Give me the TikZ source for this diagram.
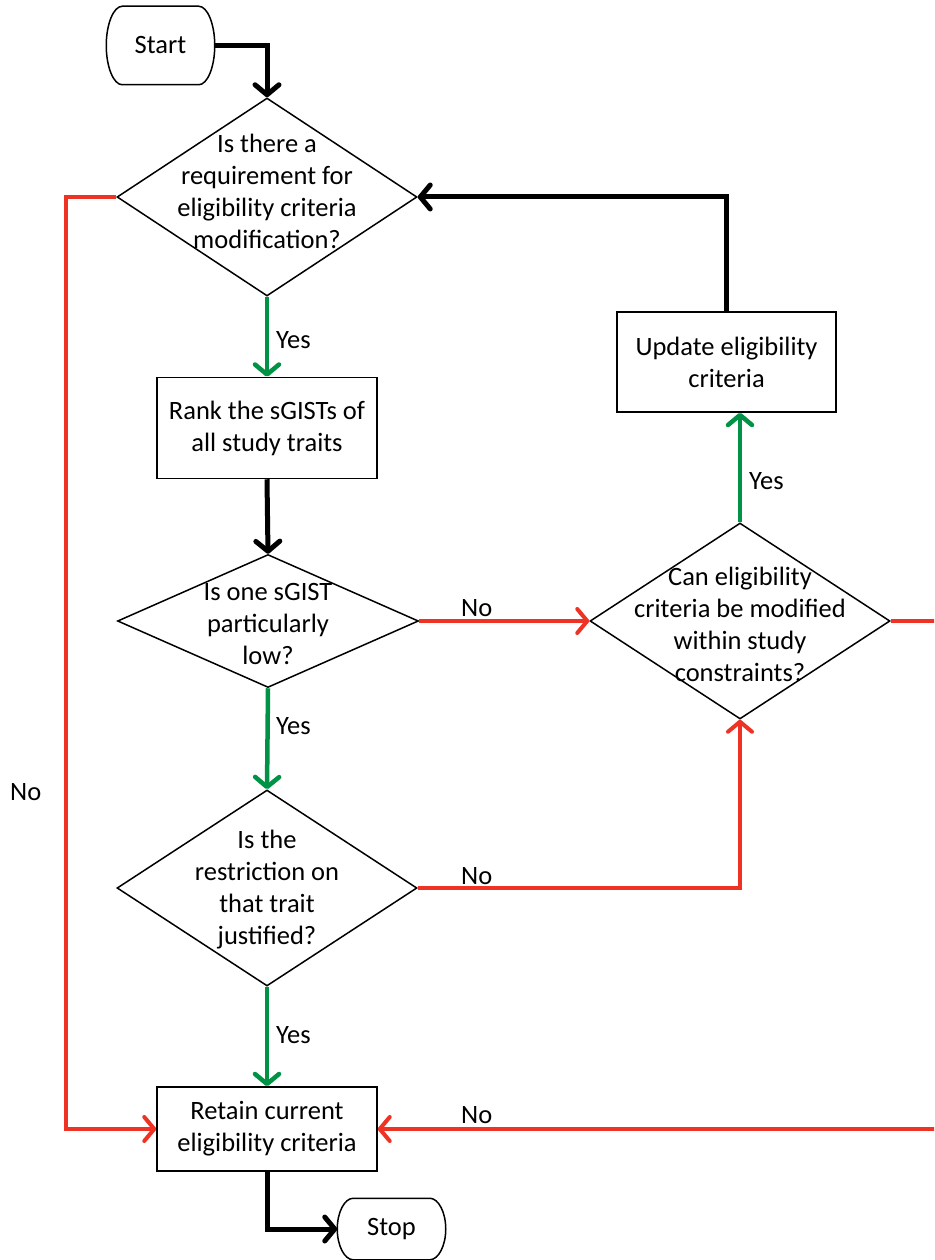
\documentclass[tikz,border=0pt]{standalone}
\usepackage{fontspec}
\setmainfont{Carlito}
\usetikzlibrary{arrows.meta,shapes.geometric}
\definecolor{myred}{RGB}{238,50,36}
\definecolor{mygreen}{RGB}{0,146,69}
\newcommand\termoutline[2]{%
  \draw[line width=1.5pt, line join=round]
    ([xshift=16pt]#1.north west) -- ([xshift=-16pt]#1.north east)
    .. controls ([xshift=-7.2pt]#1.north east) and ([yshift={0.552*#2}]#1.east) .. (#1.east)
    .. controls ([yshift={-0.552*#2}]#1.east) and ([xshift=-7.2pt]#1.south east) .. ([xshift=-16pt]#1.south east)
    -- ([xshift=16pt]#1.south west)
    .. controls ([xshift=7.2pt]#1.south west) and ([yshift={-0.552*#2}]#1.west) .. (#1.west)
    .. controls ([yshift={0.552*#2}]#1.west) and ([xshift=7.2pt]#1.north west) .. ([xshift=16pt]#1.north west)
    -- cycle;}
\begin{document}
\begin{tikzpicture}[x=1pt,y=-1pt,
  txt/.style={font=\fontsize{26.5}{32}\selectfont, align=center, inner sep=0pt},
  lbl/.style={font=\fontsize{26.5}{32}\selectfont, inner sep=0pt, anchor=west},
  dia/.style={diamond, draw, line width=1.5pt, inner sep=0pt},
  box/.style={rectangle, draw, line width=1.5pt, inner sep=0pt, align=center,
              font=\fontsize{26.5}{32}\selectfont},
  term/.style={rectangle, draw=none, inner sep=0pt, outer sep=0.75pt,
              font=\fontsize{26.5}{32}\selectfont},
  tip/.style={-{Straight Barb[length=10pt,width=24pt,round]}},
  blk/.style={tip, line width=5pt, black},
  grn/.style={tip, line width=4.5pt, mygreen},
  rd/.style={tip, line width=4pt, myred}
]
\useasboundingbox (0,0) rectangle (934,1260);
\clip (0,0) rectangle (934,1260);
\fill[white] (0,0) rectangle (934,1260);

% terminals
\node[term, minimum width=107pt, minimum height=77pt] (start) at (160.5,45.5) {Start};
\termoutline{start}{38.5pt}
\node[term, minimum width=107pt, minimum height=60pt] (stop) at (391.5,1229) {Stop};
\termoutline{stop}{30pt}

% decisions
\node[dia, minimum width=300pt, minimum height=198pt] (d1) at (267,197) {};
\node[txt] (d1t) at (267,191) {Is there a\\requirement for\\eligibility criteria\\modification?};
\node[dia, minimum width=301pt, minimum height=133pt] (d2) at (268,621) {};
\node[txt] (d2t) at (268,624) {Is one sGIST\\particularly\\low?};
\node[dia, minimum width=300pt, minimum height=196pt] (d3) at (740,621) {};
\node[txt] (d3t) at (740,624) {Can eligibility\\criteria be modified\\within study\\constraints?};
\node[dia, minimum width=300pt, minimum height=196pt] (d4) at (267,888) {};
\node[txt] (d4t) at (267,890) {Is the\\restriction on\\that trait\\justified?};

% processes
\node[box, minimum width=220pt, minimum height=101pt] (rank) at (267,428) {Rank the sGISTs of\\all study traits};
\node[box, minimum width=219pt, minimum height=100pt] (upd) at (726.5,362) {Update eligibility\\criteria};
\node[box, minimum width=220pt, minimum height=84pt] (retain) at (267,1129) {Retain current\\eligibility criteria};

% connectors
\draw[blk] (start.east) -| (d1.north);
\draw[rd] (d1.west) -- ++(-50,0) |- (retain.west);
\draw[grn] (d1.south) -- (rank.north);
\draw[blk] (rank.south) -- (d2.north);
\draw[rd] (d2.east) -- (d3.west);
\draw[grn] (d3.north) -- (d3.north |- upd.south);
\draw[blk] (upd.north) |- (d1.east);
\draw[rd] (d3.east) -- ++(70,0) |- (retain.east);
\draw[grn] (d2.south) -- (d4.north);
\draw[rd] (d4.east) -| (d3.south);
\draw[grn] (d4.south) -- (retain.north);
\draw[blk] (retain.south) |- (stop.west);

% labels
\node[lbl] (y1) at (276,340) {Yes};
\node[lbl] (y2) at (276,726) {Yes};
\node[lbl] (y3) at (276,1035) {Yes};
\node[lbl] (y4) at (749,481) {Yes};
\node[lbl] (n1) at (461,608) {No};
\node[lbl] (n2) at (461,876) {No};
\node[lbl] (n3) at (461,1115) {No};
\node[lbl] (n4) at (10,792) {No};
\end{tikzpicture}
\end{document}
